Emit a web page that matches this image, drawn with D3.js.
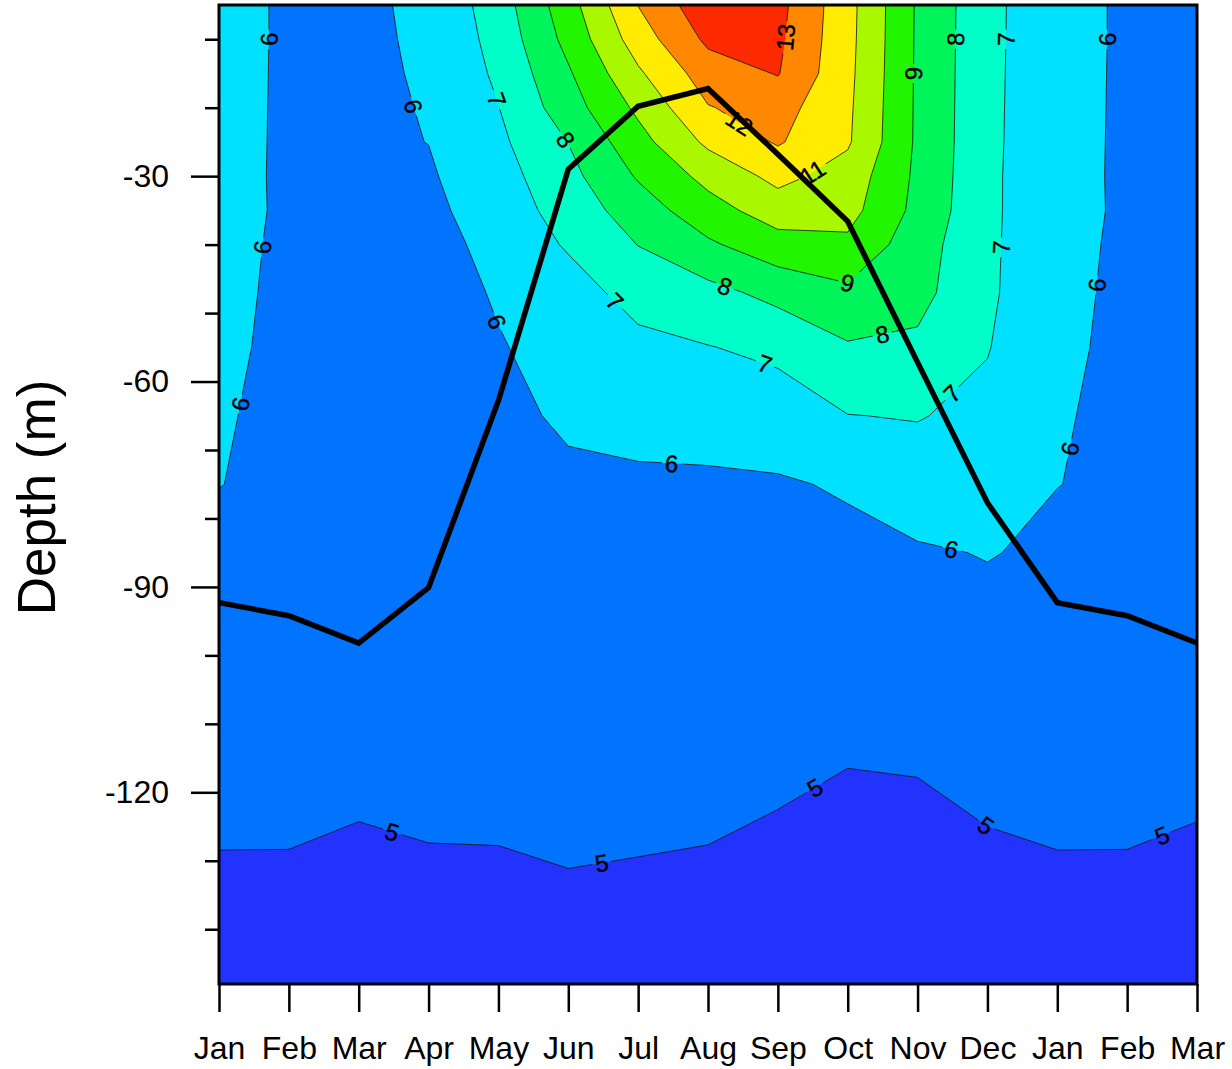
<!DOCTYPE html>
<html>
<head>
<meta charset="utf-8">
<script src="https://cdn.jsdelivr.net/npm/d3@7"></script>
<style>
body { margin: 0; background: #fff; }
text { font-family: "Liberation Sans", Arial, Helvetica, sans-serif; }
</style>
</head>
<body>
<script>
// x axis: 15 months (Jan..Mar of the next year)
var monthLabels = ["Jan","Feb","Mar","Apr","May","Jun","Jul","Aug","Sep","Oct","Nov","Dec","Jan","Feb","Mar"];

// depth levels of the temperature grid (m), top to bottom
var depths = [-5, -10, -15, -20, -25, -30, -35, -40, -47, -55, -65, -75, -85, -95, -110, -130, -148];

// temperature profiles, one per month, same order as depths
var tJan = [6.25, 6.25, 6.24, 6.23, 6.22, 6.21, 6.2, 6.15, 6.1, 6.07, 6.03, 6.01, 5.85, 5.65, 5.35, 4.97, 4.7];
var tFeb = [5.9, 5.9, 5.9, 5.9, 5.9, 5.9, 5.91, 5.91, 5.92, 5.92, 5.92, 5.88, 5.78, 5.62, 5.33, 4.97, 4.7];
var tMar = [5.85, 5.85, 5.85, 5.85, 5.85, 5.85, 5.85, 5.84, 5.83, 5.82, 5.8, 5.75, 5.65, 5.5, 5.25, 4.9, 4.65];
var tApr = [6.16, 6.12, 6.08, 6.04, 6.01, 5.9, 5.79, 5.62, 5.45, 5.38, 5.33, 5.28, 5.23, 5.18, 5.1, 4.985, 4.75];
var tMay = [7.5, 7.34, 7.17, 6.98, 6.8, 6.6, 6.45, 6.32, 6.12, 5.92, 5.8, 5.72, 5.64, 5.52, 5.32, 4.96, 4.72];
var tJun = [9.6, 9.3, 8.88, 8.55, 8.02, 7.7, 7.42, 7.1, 6.6, 6.45, 6.12, 5.85, 5.7, 5.55, 5.32, 5.02, 4.7];
var tJul = [12.02, 11.5, 10.85, 10.2, 9.65, 9.1, 8.5, 8.02, 7.35, 6.75, 6.3, 5.85, 5.72, 5.57, 5.34, 4.99, 4.73];
var tAug = [13.7, 13.2, 12.5, 11.95, 11.2, 10.3, 9.6, 8.85, 7.7, 6.97, 6.4, 5.85, 5.74, 5.6, 5.38, 4.95, 4.75];
var tSep = [13.3, 13.2, 13.05, 12.4, 12.1, 11.28, 10.5, 9.6, 8.3, 7.2, 6.55, 5.9, 5.8, 5.65, 5.25, 4.85, 4.65];
var tOct = [11.33, 11.3, 11.25, 11.18, 11.12, 10.6, 10.35, 9.8, 8.8, 7.9, 6.98, 6.1, 5.75, 5.55, 5.12, 4.75, 4.6];
var tNov = [8.88, 8.87, 8.86, 8.85, 8.84, 8.8, 8.72, 8.45, 8.3, 7.82, 7.05, 6.5, 5.9, 5.6, 5.18, 4.72, 4.6];
var tDec = [7.28, 7.27, 7.26, 7.25, 7.24, 7.22, 7.22, 7.21, 7.19, 7.05, 6.75, 6.45, 6.04, 5.75, 5.3, 4.9, 4.65];

var columns = [tJan, tFeb, tMar, tApr, tMay, tJun, tJul, tAug, tSep, tOct, tNov, tDec, tJan, tFeb, tMar];

// thick black line (m)
var mld = [-92.3, -94.2, -98.2, -90.1, -62.8, -29.0, -19.8, -17.2, -26.8, -36.6, -57.2, -77.7, -92.3, -94.2, -98.2];

// contour levels and fill colours (below 5, 5-6, ..., above 13)
var levels = [5, 6, 7, 8, 9, 10, 11, 12, 13];
var fillColors = ["#2233ff", "#0073ff", "#00e0ff", "#00ffc8", "#00f55a", "#22f500", "#aaf800", "#ffec00", "#ff8800", "#ff2a00"];

// contour labels: value, month position, depth
var labelValues = [6, 6, 6, 6, 7, 8, 6, 7, 6, 8, 7, 9, 8, 7, 6, 13, 12, 11, 9, 8, 7, 6, 7, 6, 6, 5, 5, 5, 5, 5];
var labelMonths = [0.73, 0.62, 0.31, 2.78, 3.98, 4.97, 3.97, 5.63, 6.48, 7.24, 7.83, 8.99, 9.49, 10.46, 10.48,
                   8.1, 7.43, 8.49, 9.96, 10.54, 11.25, 12.73, 11.22, 12.57, 12.22, 2.48, 5.48, 8.5, 10.98, 13.5];
var labelDepths = [-10, -40.4, -63.3, -19.8, -18.8, -24.6, -51.3, -48.7, -71.8, -46.1, -56.9, -45.9, -52.9, -61.4, -84.6,
                   -9.7, -22.5, -29.3, -15, -10, -10, -10, -40.4, -45.9, -69.9, -125.7, -130.4, -118.8, -124.8, -126.3];

var svgW = 1232, svgH = 1069;
var padL = 219, padR = 1197, padT = 5, padB = 984;

var svg = d3.select("body").append("svg")
    .attr("width", svgW)
    .attr("height", svgH);

var x = d3.scaleLinear().domain([0, monthLabels.length - 1]).range([padL, padR]);
var y = d3.scaleLinear().domain([-148, -5]).range([padB, padT]);
// grid row index -> depth (levels are not evenly spaced)
var rowDepth = d3.scaleLinear().domain(d3.range(depths.length)).range(depths);

var nx = columns.length, ny = depths.length;
var values = [];
for (var j = 0; j < ny; j++) {
    for (var i = 0; i < nx; i++) {
	values.push(columns[i][j]);
    }
}

var contours = d3.contours().size([nx, ny]).thresholds(levels)(values);

function toPixel(px, py) {
    var gi = Math.max(0, Math.min(nx - 1, px - 0.5));
    var gj = Math.max(0, Math.min(ny - 1, py - 0.5));
    return [x(gi), y(rowDepth(gj))];
}

var path = d3.geoPath(d3.geoTransform({
    point: function(px, py) {
	var p = toPixel(px, py);
	this.stream.point(p[0], p[1]);
    }
}));

var defs = svg.append("defs");
var mask = defs.append("mask").attr("id", "labelmask")
    .attr("maskUnits", "userSpaceOnUse")
    .attr("x", 0).attr("y", 0).attr("width", svgW).attr("height", svgH);
mask.append("rect").attr("width", svgW).attr("height", svgH).attr("fill", "white");

// filled bands
svg.append("rect")
    .attr("x", padL).attr("y", padT)
    .attr("width", padR - padL).attr("height", padB - padT)
    .attr("fill", fillColors[0]);

svg.append("g").selectAll("path")
    .data(contours)
    .enter()
    .append("path")
    .attr("d", path)
    .attr("fill", function(d, k) { return fillColors[k + 1]; });

// contour lines
svg.append("g")
    .attr("mask", "url(#labelmask)")
    .selectAll("path")
    .data(contours)
    .enter()
    .append("path")
    .attr("d", path)
    .attr("fill", "none")
    .attr("stroke", "#111")
    .attr("stroke-width", 0.8);

// labels snapped onto their contour line
function onFrame(a, b) {
    var e = 0.5;
    return (Math.abs(a[0] - padL) < e && Math.abs(b[0] - padL) < e) ||
	(Math.abs(a[0] - padR) < e && Math.abs(b[0] - padR) < e) ||
	(Math.abs(a[1] - padT) < e && Math.abs(b[1] - padT) < e) ||
	(Math.abs(a[1] - padB) < e && Math.abs(b[1] - padB) < e);
}

var labelG = svg.append("g");
labelValues.forEach(function(v, n) {
    var c = contours[levels.indexOf(v)];
    var hx = x(labelMonths[n]), hy = y(labelDepths[n]);
    var best = null;
    c.coordinates.forEach(function(poly) {
	poly.forEach(function(ring) {
	    var pts = ring.map(function(p) { return toPixel(p[0], p[1]); });
	    for (var k = 0; k < pts.length - 1; k++) {
		var a = pts[k], b = pts[k + 1];
		if (onFrame(a, b)) continue;
		var dx = b[0] - a[0], dy = b[1] - a[1];
		var len2 = dx * dx + dy * dy;
		if (len2 < 1e-9) continue;
		var t = ((hx - a[0]) * dx + (hy - a[1]) * dy) / len2;
		t = Math.max(0, Math.min(1, t));
		var qx = a[0] + t * dx, qy = a[1] + t * dy;
		var dist = (qx - hx) * (qx - hx) + (qy - hy) * (qy - hy);
		if (!best || dist < best.dist) {
		    best = {dist: dist, x: qx, y: qy, ang: Math.atan2(dy, dx) * 180 / Math.PI};
		}
	    }
	});
    });
    if (!best) return;
    var ang = best.ang;
    if (ang >= 90) ang -= 180;
    if (ang < -90) ang += 180;
    var tr = "translate(" + best.x + "," + best.y + ") rotate(" + ang + ")";
    var txt = labelG.append("text")
	.attr("transform", tr)
	.attr("text-anchor", "middle")
	.attr("dy", "0.36em")
	.attr("font-size", 24)
	.attr("fill", "#000")
	.attr("stroke", "#000")
	.attr("stroke-width", 0.4)
	.text(v);
    var bb = txt.node().getBBox();
    mask.append("rect")
	.attr("transform", tr)
	.attr("x", bb.x - 3).attr("y", bb.y)
	.attr("width", bb.width + 6).attr("height", bb.height)
	.attr("fill", "black");
});

// black line
var line = d3.line()
    .x(function(d, i) { return x(i); })
    .y(function(d) { return y(d); });

svg.append("path")
    .datum(mld)
    .attr("d", line)
    .attr("fill", "none")
    .attr("stroke", "#000")
    .attr("stroke-width", 5.5)
    .attr("stroke-linejoin", "miter");

// axes
var xAxis = d3.axisBottom(x)
    .tickValues(d3.range(monthLabels.length))
    .tickFormat(function(i) { return monthLabels[i]; })
    .tickSize(28)
    .tickPadding(24);

var gx = svg.append("g")
    .attr("transform", "translate(0," + padB + ")")
    .call(xAxis);

var yAxis = d3.axisLeft(y)
    .tickValues([-30, -60, -90, -120])
    .tickFormat(function(d) { return String(d); })
    .tickSize(28)
    .tickPadding(22);

var gy = svg.append("g")
    .attr("transform", "translate(" + padL + ",0)")
    .call(yAxis);

var yMinor = d3.axisLeft(y)
    .tickValues([-10, -20, -40, -50, -70, -80, -100, -110, -130, -140])
    .tickSize(14)
    .tickFormat("");

var gym = svg.append("g")
    .attr("transform", "translate(" + padL + ",0)")
    .call(yMinor);

[gx, gy, gym].forEach(function(g) {
    g.select(".domain").remove();
    g.selectAll(".tick line").attr("stroke", "#000").attr("stroke-width", 2.5);
    g.selectAll(".tick text")
	.attr("fill", "#000")
	.attr("font-size", 32)
	.attr("font-family", "Liberation Sans, Arial, Helvetica, sans-serif");
});

// frame
svg.append("rect")
    .attr("x", padL).attr("y", padT)
    .attr("width", padR - padL).attr("height", padB - padT)
    .attr("fill", "none")
    .attr("stroke", "#000")
    .attr("stroke-width", 3);

// y title
svg.append("text")
    .attr("transform", "translate(55," + ((padT + padB) / 2 + 3) + ") rotate(-90)")
    .attr("text-anchor", "middle")
    .attr("font-size", 53)
    .attr("fill", "#000")
    .text("Depth (m)");
</script>
</body>
</html>
